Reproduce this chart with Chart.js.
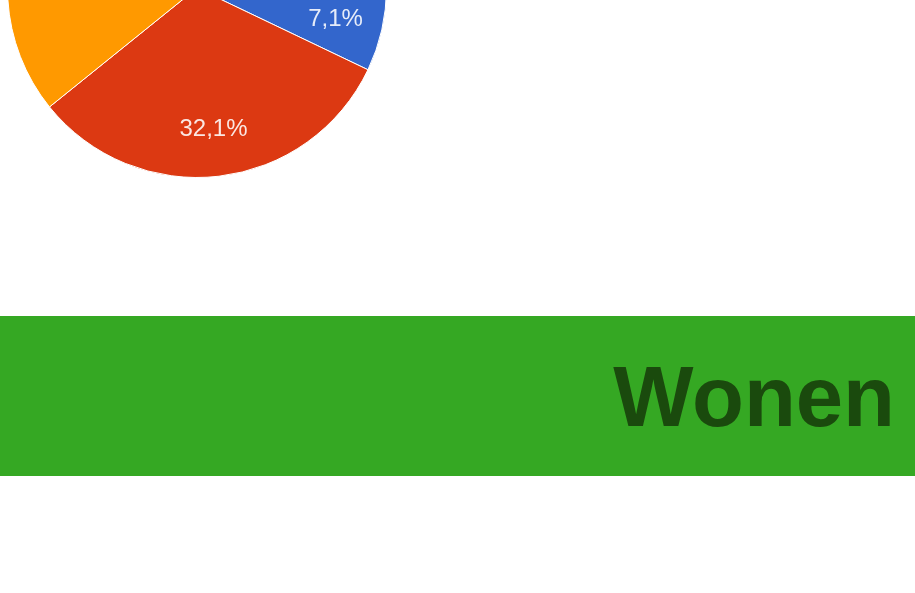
<!DOCTYPE html>
<html>
<head>
<meta charset="utf-8">
<script src="https://cdn.jsdelivr.net/npm/chart.js@4/dist/chart.umd.min.js"></script>
<style>
  html, body { margin: 0; padding: 0; width: 915px; height: 593px; overflow: hidden; background: #ffffff; }
  #wrap { position: absolute; left: 7px; top: -202px; width: 380px; height: 380px; }
  #banner { position: absolute; left: 0; top: 316px; width: 915px; height: 160px; background: #35a823; }
  #banner span { position: absolute; right: 20px; top: 50%; transform: translateY(-50%);
    font-family: "Liberation Sans", Arial, sans-serif; font-weight: bold; font-size: 85px; color: #1a4a0d; line-height: 1; }
</style>
</head>
<body>
<div id="wrap"><canvas id="c" width="380" height="380"></canvas></div>
<div id="banner"><span>Wonen</span></div>
<script>
// Data (only part of the pie is visible in the reference)
const categories = ["Optie 1", "Optie 2", "Optie 3", "Optie 4"];
const values = [7.1, 32.1, 39.3, 21.5];
const valueLabels = ["7,1%", "32,1%", "39,3%", "21,5%"];
const colors = ["#3366cc", "#dc3912", "#ff9900", "#109618"];

const labelPlugin = {
  id: 'sliceLabels',
  afterDatasetsDraw(chart) {
    const ctx = chart.ctx;
    const meta = chart.getDatasetMeta(0);
    ctx.save();
    ctx.font = '24px "Liberation Sans", Arial, sans-serif';
    ctx.fillStyle = 'rgba(255,255,255,0.88)';
    ctx.textAlign = 'center';
    ctx.textBaseline = 'middle';
    meta.data.forEach((arc, i) => {
      const p = arc.getProps(['x', 'y', 'startAngle', 'endAngle', 'outerRadius'], true);
      const mid = (p.startAngle + p.endAngle) / 2;
      const r = p.outerRadius * 0.75;
      ctx.fillText(valueLabels[i], p.x + Math.cos(mid) * r, p.y + Math.sin(mid) * r);
    });
    ctx.restore();
  }
};

new Chart(document.getElementById('c'), {
  type: 'pie',
  data: {
    labels: categories,
    datasets: [{
      data: values,
      backgroundColor: colors,
      borderColor: '#ffffff',
      borderWidth: 1
    }]
  },
  options: {
    responsive: false,
    animation: false,
    rotation: 90,
    layout: { padding: 0 },
    plugins: { legend: { display: false }, tooltip: { enabled: false } }
  },
  plugins: [labelPlugin]
});
</script>
</body>
</html>
